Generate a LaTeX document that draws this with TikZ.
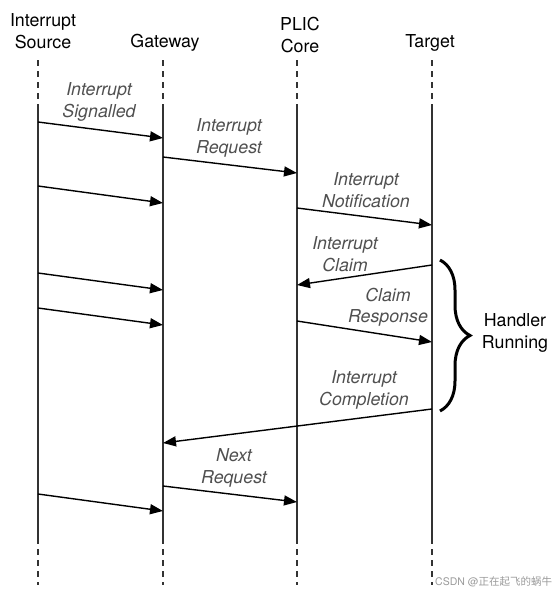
\documentclass[tikz,border=0pt]{standalone}
\usepackage{fontspec}
\setmainfont{TeX Gyre Heros}
\newfontfamily\cjk{Noto Sans CJK SC}
\usetikzlibrary{arrows.meta,decorations.pathreplacing}
\definecolor{lifec}{HTML}{333333}
\definecolor{labc}{HTML}{505050}
\definecolor{wmc}{HTML}{9A9A9A}
\begin{document}
\begin{tikzpicture}[x=1pt,y=-1pt,
  hdr/.style={align=center,inner sep=0pt,font=\fontsize{17.8}{22}\selectfont,text=black},
  lab/.style={align=center,inner sep=0pt,font=\fontsize{17.8}{21.5}\selectfont\itshape,text=labc},
  life/.style={line width=1.4pt,draw=lifec},
  lifedash/.style={line width=1.4pt,draw=lifec,dash pattern=on 6pt off 5pt},
  msg/.style={line width=1.4pt,draw=black,-{Triangle[length=13pt,width=10pt]}},
  bracestyle/.style={line width=3pt,decorate,decoration={brace,amplitude=30pt}}]
\useasboundingbox (0,0) rectangle (556,597);

% headers
\node[hdr] (hs) at (43,31) {Interrupt\\Source};
\node[hdr] (hg) at (165,43) {Gateway};
\node[hdr] (hp) at (300,35) {PLIC\\Core};
\node[hdr] (ht) at (430,43) {Target};

% lifelines
\foreach \n/\x in {s/38,g/163,p/297,t/432}{
  \coordinate (\n0) at (\x,60);
  \coordinate (\n1) at (\x,108);
  \coordinate (\n2) at (\x,538);
  \coordinate (\n3) at (\x,585);
  \draw[lifedash] (\n0) -- (\n1);
  \draw[life] (\n1) -- (\n2);
  \draw[lifedash] (\n2) -- (\n3);
}

% message end points
\coordinate (a1) at (38,122);  \coordinate (b1) at (163,138);
\coordinate (a2) at (163,157); \coordinate (b2) at (297,173);
\coordinate (a3) at (38,186);  \coordinate (b3) at (163,203);
\coordinate (a4) at (297,208); \coordinate (b4) at (432,225);
\coordinate (a5) at (432,265); \coordinate (b5) at (297,285);
\coordinate (a6) at (38,273);  \coordinate (b6) at (163,290);
\coordinate (a7) at (38,308);  \coordinate (b7) at (163,325);
\coordinate (a8) at (297,321); \coordinate (b8) at (432,342);
\coordinate (a9) at (432,409); \coordinate (b9) at (163,443);
\coordinate (a10) at (163,486); \coordinate (b10) at (297,502);
\coordinate (a11) at (38,494); \coordinate (b11) at (163,511);

\foreach \i in {1,...,11}{\draw[msg] (a\i) -- (b\i);}

% labels
\node[lab] (l1) at (99,102) {Interrupt\\Signalled};
\node[lab] (l2) at (229,138) {Interrupt\\Request};
\node[lab] (l3) at (366,190) {Interrupt\\Notification};
\node[lab] (l4) at (345,254) {Interrupt\\Claim};
\node[lab] (l5) at (388,307) {Claim\\Response};
\node[lab] (l6) at (364,390) {Interrupt\\Completion};
\node[lab] (l7) at (234,468) {Next\\Request};

% brace
\coordinate (br1) at (440,260);
\coordinate (br2) at (440,411);
\draw[bracestyle] (br1) -- (br2);
\node[hdr] (hr) at (515,333) {Handler\\Running};

% watermark
\node[anchor=west,inner sep=0pt,text=wmc,font=\fontsize{10.5}{12}\selectfont] (wm) at (435,582) {CSDN @{\cjk 正在起飞的蜗牛}};
\end{tikzpicture}
\end{document}
